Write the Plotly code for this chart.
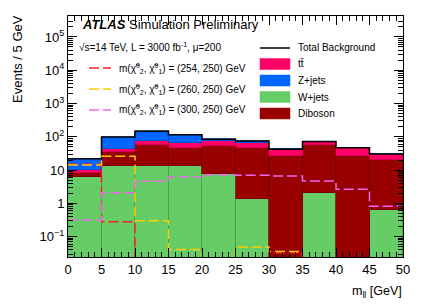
import numpy as np
import plotly.graph_objects as go

# bin edges and centres (GeV)
edges = [0, 5, 10, 15, 20, 25, 30, 35, 40, 45, 50]
centres = [2.5, 7.5, 12.5, 17.5, 22.5, 27.5, 32.5, 37.5, 42.5, 47.5]

# background yields (events / 5 GeV), stacked bottom -> top
wjets = [6.2, 13.3, 13.3, 13.2, 7.8, 1.4, 0, 2.05, 0, 0.62]
diboson = [2.2, 21.8, 42.3, 34.0, 44.0, 43.8, 26.3, 53.5, 27.0, 19.6]
ttbar = [1.5, 9.1, 17.7, 18.1, 23.2, 21.6, 15.9, 16.4, 20.3, 10.3]
zjets = [12.1, 54.7, 72.7, 50.7, 9.1, 8.2, 0, 0, 0, 0]

# signal yields
sig_254 = [15.0, 0.28, 0, 0, 0, 0, 0.033, 0, 0, 0]
sig_260 = [14.2, 26.0, 0.30, 0.041, 0, 0.049, 0.036, 0, 0, 0]
sig_300 = [0.31, 2.1, 4.6, 6.2, 7.3, 7.0, 6.65, 4.7, 2.65, 0.82]

ytick_vals = [0.1, 1, 10, 100, 1000, 10000, 100000]
ytick_text = ["10<sup>\u22121</sup>", "1", "10", "10<sup>2</sup>", "10<sup>3</sup>", "10<sup>4</sup>", "10<sup>5</sup>"]
xtick_vals = [0, 5, 10, 15, 20, 25, 30, 35, 40, 45, 50]

FONT = "Liberation Sans, Arial, sans-serif"
OFF = 8  # page body margin
W, H = 425 - OFF, 306 - OFF
L, R, T, B = 68 - OFF, 22, 16 - OFF, 49
PW, PH = W - L - R, H - T - B


def px(x):
    # page pixel -> paper x
    return (x - OFF - L) / PW


def py(y):
    # page pixel -> paper y
    return (H - B - (y - OFF)) / PH


def step(vals):
    v = np.array(vals, dtype=float)
    v = np.where(v > 0, v, 1e-4)
    return list(edges), list(np.append(v, v[-1]))


fig = go.Figure()

stack = [
    ("W+jets", wjets, "#66CC66", "#3f9a3f"),
    ("Diboson", diboson, "#990000", "#6a0000"),
    ("tt\u0304", ttbar, "#FF0066", "#c00050"),
    ("Z+jets", zjets, "#0066FF", "#0048c0"),
]
for name, vals, col, lc in stack:
    fig.add_trace(go.Bar(x=centres, y=vals, width=5, name=name,
                         marker=dict(color=col, line=dict(color=lc, width=0.6)),
                         showlegend=False))

total = [a + b + c + d for a, b, c, d in zip(wjets, diboson, ttbar, zjets)]
xs, ys = step(total)
fig.add_trace(go.Scatter(x=xs, y=ys, mode="lines", line=dict(color="black", width=1.5, shape="hv"),
                         showlegend=False))

sig = [(sig_254, "#FF2020"), (sig_260, "#FFCC00"), (sig_300, "#EE66EE")]
for vals, col in sig:
    xs, ys = step(vals)
    fig.add_trace(go.Scatter(x=xs, y=ys, mode="lines",
                             line=dict(color=col, width=1.5, shape="hv", dash="10px,4px"),
                             showlegend=False))

ann = []
shapes = []
# ATLAS label
ann.append(dict(x=px(80), y=py(25), xref="paper", yref="paper", xanchor="left", yanchor="middle",
                text="<b><i>ATLAS</i></b> Simulation Preliminary", showarrow=False,
                font=dict(family=FONT, size=13, color="black")))
ann.append(dict(x=px(77), y=py(47), xref="paper", yref="paper", xanchor="left", yanchor="middle",
                text="\u221As=14 TeV, L = 3000 fb<sup>-1</sup>, \u03bc=200", showarrow=False,
                font=dict(family=FONT, size=10, color="black")))
sig_labels = ["(254, 250)", "(260, 250)", "(300, 250)"]
sig_y = [68, 89, 110]
for (vals, col), lab, yy in zip(sig, sig_labels, sig_y):
    shapes.append(dict(type="line", xref="paper", yref="paper", x0=px(89), x1=px(111), y0=py(yy), y1=py(yy),
                       line=dict(color=col, width=1.5, dash="10px,4px")))
    ann.append(dict(x=px(117), y=py(yy), xref="paper", yref="paper", xanchor="left", yanchor="middle",
                    text="m(\u03c7\u0303<sup>0</sup><sub>2</sub>, \u03c7\u0303<sup>0</sup><sub>1</sub>) = " + lab + " GeV",
                    showarrow=False, font=dict(family=FONT, size=10, color="black")))

# background legend
shapes.append(dict(type="line", xref="paper", yref="paper", x0=px(260), x1=px(290), y0=py(48), y1=py(48),
                   line=dict(color="black", width=1.5)))
ann.append(dict(x=px(296), y=py(48), xref="paper", yref="paper", xanchor="left", yanchor="middle",
                text="Total Background", showarrow=False, font=dict(family=FONT, size=10, color="black")))
leg = [("tt\u0304", "#FF0066", 64), ("Z+jets", "#0066FF", 80.5), ("W+jets", "#66CC66", 97), ("Diboson", "#990000", 113.5)]
for name, col, yy in leg:
    shapes.append(dict(type="rect", xref="paper", yref="paper", x0=px(260), x1=px(290), y0=py(yy + 5.5), y1=py(yy - 5.5),
                       fillcolor=col, line=dict(color=col, width=0.5)))
    ann.append(dict(x=px(296), y=py(yy), xref="paper", yref="paper", xanchor="left", yanchor="middle",
                    text=name, showarrow=False, font=dict(family=FONT, size=10, color="black")))

# axis titles
ann.append(dict(x=px(17), y=py(59), xref="paper", yref="paper", xanchor="center", yanchor="middle",
                text="Events / 5 GeV", textangle=-90, showarrow=False,
                font=dict(family=FONT, size=13, color="black")))
ann.append(dict(x=px(404), y=py(292), xref="paper", yref="paper", xanchor="right", yanchor="middle",
                text="m<sub>ll</sub> [GeV]", showarrow=False,
                font=dict(family=FONT, size=12.5, color="black")))

fig.update_layout(
    width=W, height=H,
    margin=dict(l=L, r=R, t=T, b=B, pad=0),
    paper_bgcolor="white", plot_bgcolor="white",
    barmode="stack", bargap=0,
    font=dict(family=FONT, size=13, color="black"),
    annotations=ann, shapes=shapes, showlegend=False,
)
fig.update_xaxes(range=[0, 50], tickvals=xtick_vals, ticks="inside", ticklen=9, tickcolor="black",
                 showline=True, linecolor="black", linewidth=1, mirror="ticks", showgrid=False, zeroline=False,
                 minor=dict(dtick=1, ticks="inside", ticklen=5, tickcolor="black", showgrid=False),
                 tickfont=dict(family=FONT, size=13))
fig.update_yaxes(type="log", range=[-1.61, 5.63], tickvals=ytick_vals, ticktext=ytick_text,
                 ticks="inside", ticklen=9, tickcolor="black",
                 showline=True, linecolor="black", linewidth=1, mirror="ticks", showgrid=False, zeroline=False,
                 minor=dict(dtick="D1", ticks="inside", ticklen=5, tickcolor="black", showgrid=False),
                 tickfont=dict(family=FONT, size=13))

fig.write_html("out.html")
